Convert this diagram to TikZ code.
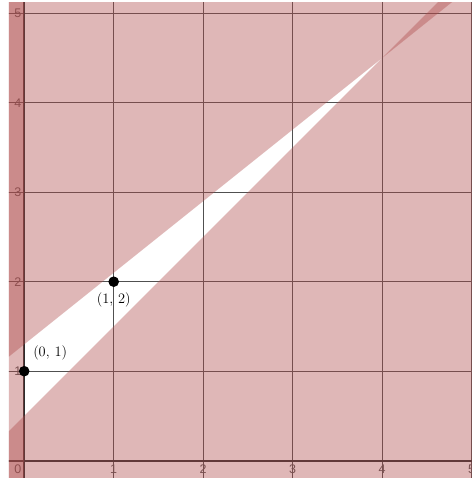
\documentclass[tikz,border=0pt]{standalone}
\usepackage{fontspec}
\newfontfamily\axisfont{Liberation Sans}
\definecolor{shade}{RGB}{175,75,75}
\definecolor{gridc}{RGB}{80,80,80}
\definecolor{axisc}{RGB}{45,45,45}
\definecolor{ticklab}{RGB}{85,85,85}
\tikzset{
  gridline/.style={draw=gridc, line width=1pt},
  axisline/.style={draw=axisc, line width=1.6pt},
  region/.style={fill=shade, fill opacity=0.4, draw=none},
  ticklabel/.style={font=\axisfont\fontsize{12.5}{14}\selectfont, text=ticklab, inner sep=0pt},
  ptdot/.style={circle, fill=black, minimum size=10.6pt, inner sep=0pt},
  ptlabel/.style={font=\fontsize{14.5}{16}\selectfont, inner sep=0pt}
}
\begin{document}
\begin{tikzpicture}[x=89.5pt,y=89.5pt]
\useasboundingbox[fill=white] (-0.2704,-0.1933) rectangle (5.003,5.1475);
\begin{scope}
\clip (-0.170,-0.1933) rectangle (5.003,5.114);
% grid
\foreach \k in {1,...,5} {
  \draw[gridline] (\k,-1) -- (\k,7);
  \draw[gridline] (-1,\k) -- (7,\k);
}
\draw[axisline] (0,-1) -- (0,7);
\draw[axisline] (-1,0) -- (7,0);
% tick labels
\node[ticklabel] (x0) at (-0.072,-0.092) {0};
\foreach \k in {1,...,5} {
  \node[ticklabel] (x\k) at (\k,-0.092) {\k};
  \node[ticklabel] (y\k) at (-0.072,\k) {\k};
}
% shaded inequality regions
\fill[region] (-1,-1) rectangle (0,7);
\fill[region] (-1,0.5) -- (6,6.1) -- (6,7) -- (-1,7) -- cycle;
\fill[region] (-1,-0.5) -- (6,6.5) -- (6,-1) -- (-1,-1) -- cycle;
% points
\node[ptdot] (p01) at (0,1) {};
\node[ptdot] (p12) at (1,2) {};
\node[ptlabel] (l01) at (0.29,1.20) {$(0,\,1)$};
\node[ptlabel] (l12) at (1.0,1.80) {$(1,\,2)$};
\end{scope}
\end{tikzpicture}
\end{document}
